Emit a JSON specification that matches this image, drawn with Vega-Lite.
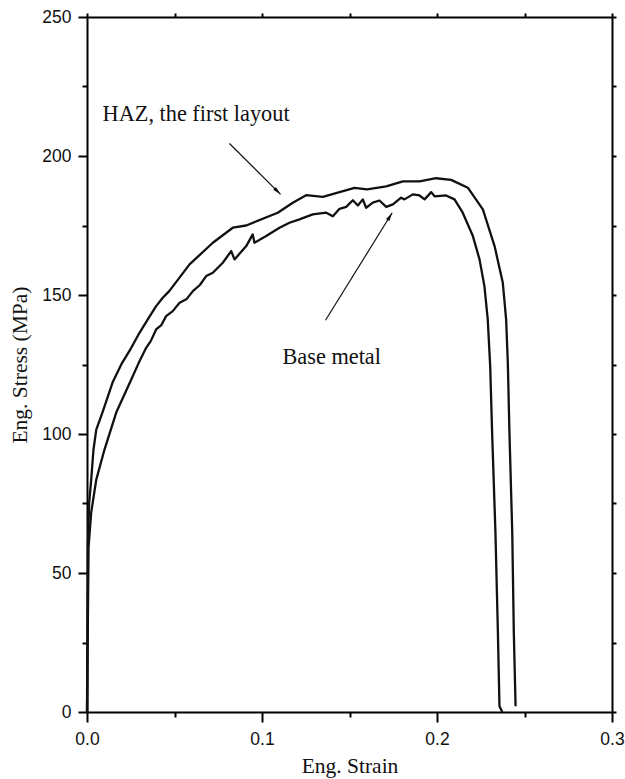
{
  "$schema": "https://vega.github.io/schema/vega-lite/v6.json",
  "width": 525,
  "height": 695,
  "autosize": "none",
  "padding": {"left": 87, "top": 17, "right": 13, "bottom": 67},
  "background": "white",
  "config": {
    "view": {"stroke": null},
    "axis": {"domainColor": "black", "domainWidth": 2, "tickColor": "black", "tickWidth": 2, "grid": false,
      "labelFont": "Liberation Sans", "labelFontSize": 17.5, "labelColor": "#111",
      "titleFont": "Liberation Serif", "titleFontSize": 21.5, "titleFontWeight": "normal", "titleColor": "#111"}
  },
  "datasets": {
    "curves": [
      {"series": "HAZ", "i": 1, "strain": 0, "stress": 0},
      {"series": "HAZ", "i": 2, "strain": 0.0005, "stress": 59.5},
      {"series": "HAZ", "i": 3, "strain": 0.0012, "stress": 75},
      {"series": "HAZ", "i": 4, "strain": 0.0024, "stress": 83.6},
      {"series": "HAZ", "i": 5, "strain": 0.0037, "stress": 94.4},
      {"series": "HAZ", "i": 6, "strain": 0.0053, "stress": 101.6},
      {"series": "HAZ", "i": 7, "strain": 0.0088, "stress": 107.7},
      {"series": "HAZ", "i": 8, "strain": 0.0146, "stress": 118.5},
      {"series": "HAZ", "i": 9, "strain": 0.0200, "stress": 125.5},
      {"series": "HAZ", "i": 10, "strain": 0.0253, "stress": 131.0},
      {"series": "HAZ", "i": 11, "strain": 0.0300, "stress": 136.4},
      {"series": "HAZ", "i": 12, "strain": 0.0350, "stress": 141.5},
      {"series": "HAZ", "i": 13, "strain": 0.0395, "stress": 146},
      {"series": "HAZ", "i": 14, "strain": 0.0433, "stress": 149},
      {"series": "HAZ", "i": 15, "strain": 0.047, "stress": 151.4},
      {"series": "HAZ", "i": 16, "strain": 0.0586, "stress": 161},
      {"series": "HAZ", "i": 17, "strain": 0.0719, "stress": 168.8},
      {"series": "HAZ", "i": 18, "strain": 0.0833, "stress": 174.2},
      {"series": "HAZ", "i": 19, "strain": 0.091, "stress": 175},
      {"series": "HAZ", "i": 20, "strain": 0.109, "stress": 179.6},
      {"series": "HAZ", "i": 21, "strain": 0.1176, "stress": 183.2},
      {"series": "HAZ", "i": 22, "strain": 0.1252, "stress": 185.9},
      {"series": "HAZ", "i": 23, "strain": 0.1348, "stress": 185.3},
      {"series": "HAZ", "i": 24, "strain": 0.1443, "stress": 187},
      {"series": "HAZ", "i": 25, "strain": 0.1529, "stress": 188.5},
      {"series": "HAZ", "i": 26, "strain": 0.1600, "stress": 188},
      {"series": "HAZ", "i": 27, "strain": 0.171, "stress": 189.1},
      {"series": "HAZ", "i": 28, "strain": 0.1805, "stress": 190.9},
      {"series": "HAZ", "i": 29, "strain": 0.19, "stress": 190.9},
      {"series": "HAZ", "i": 30, "strain": 0.1995, "stress": 192},
      {"series": "HAZ", "i": 31, "strain": 0.2081, "stress": 191.4},
      {"series": "HAZ", "i": 32, "strain": 0.2176, "stress": 188.6},
      {"series": "HAZ", "i": 33, "strain": 0.2262, "stress": 180.8},
      {"series": "HAZ", "i": 34, "strain": 0.2329, "stress": 167.6},
      {"series": "HAZ", "i": 35, "strain": 0.2376, "stress": 154.4},
      {"series": "HAZ", "i": 36, "strain": 0.2395, "stress": 141.2},
      {"series": "HAZ", "i": 37, "strain": 0.2405, "stress": 125},
      {"series": "HAZ", "i": 38, "strain": 0.2414, "stress": 100.4},
      {"series": "HAZ", "i": 39, "strain": 0.243, "stress": 64.5},
      {"series": "HAZ", "i": 40, "strain": 0.2439, "stress": 28.5},
      {"series": "HAZ", "i": 41, "strain": 0.2449, "stress": 2.1},
      {"series": "Base", "i": 1, "strain": 0, "stress": 0},
      {"series": "Base", "i": 2, "strain": 0.0009, "stress": 59.5},
      {"series": "Base", "i": 3, "strain": 0.0024, "stress": 71.8},
      {"series": "Base", "i": 4, "strain": 0.0053, "stress": 83.6},
      {"series": "Base", "i": 5, "strain": 0.010, "stress": 94.4},
      {"series": "Base", "i": 6, "strain": 0.0167, "stress": 107.7},
      {"series": "Base", "i": 7, "strain": 0.0253, "stress": 119.6},
      {"series": "Base", "i": 8, "strain": 0.0295, "stress": 125.5},
      {"series": "Base", "i": 9, "strain": 0.0338, "stress": 131},
      {"series": "Base", "i": 10, "strain": 0.0365, "stress": 133.5},
      {"series": "Base", "i": 11, "strain": 0.0395, "stress": 137.6},
      {"series": "Base", "i": 12, "strain": 0.0425, "stress": 139.2},
      {"series": "Base", "i": 13, "strain": 0.0452, "stress": 142.4},
      {"series": "Base", "i": 14, "strain": 0.049, "stress": 144.2},
      {"series": "Base", "i": 15, "strain": 0.0529, "stress": 147.2},
      {"series": "Base", "i": 16, "strain": 0.057, "stress": 148.6},
      {"series": "Base", "i": 17, "strain": 0.0605, "stress": 151.4},
      {"series": "Base", "i": 18, "strain": 0.0645, "stress": 153.6},
      {"series": "Base", "i": 19, "strain": 0.0681, "stress": 156.8},
      {"series": "Base", "i": 20, "strain": 0.0719, "stress": 158},
      {"series": "Base", "i": 21, "strain": 0.0776, "stress": 161.6},
      {"series": "Base", "i": 22, "strain": 0.0824, "stress": 165.8},
      {"series": "Base", "i": 23, "strain": 0.0843, "stress": 162.8},
      {"series": "Base", "i": 24, "strain": 0.091, "stress": 167.6},
      {"series": "Base", "i": 25, "strain": 0.0947, "stress": 171.8},
      {"series": "Base", "i": 26, "strain": 0.0957, "stress": 168.8},
      {"series": "Base", "i": 27, "strain": 0.1024, "stress": 171.2},
      {"series": "Base", "i": 28, "strain": 0.11, "stress": 174.2},
      {"series": "Base", "i": 29, "strain": 0.1157, "stress": 176},
      {"series": "Base", "i": 30, "strain": 0.1214, "stress": 177.2},
      {"series": "Base", "i": 31, "strain": 0.129, "stress": 179},
      {"series": "Base", "i": 32, "strain": 0.1367, "stress": 179.6},
      {"series": "Base", "i": 33, "strain": 0.1405, "stress": 178.3},
      {"series": "Base", "i": 34, "strain": 0.1443, "stress": 181},
      {"series": "Base", "i": 35, "strain": 0.1481, "stress": 181.7},
      {"series": "Base", "i": 36, "strain": 0.1519, "stress": 184.1},
      {"series": "Base", "i": 37, "strain": 0.1548, "stress": 182.2},
      {"series": "Base", "i": 38, "strain": 0.1576, "stress": 184.4},
      {"series": "Base", "i": 39, "strain": 0.1595, "stress": 181.4},
      {"series": "Base", "i": 40, "strain": 0.1633, "stress": 183.2},
      {"series": "Base", "i": 41, "strain": 0.1671, "stress": 184},
      {"series": "Base", "i": 42, "strain": 0.171, "stress": 181.7},
      {"series": "Base", "i": 43, "strain": 0.1748, "stress": 182.6},
      {"series": "Base", "i": 44, "strain": 0.1795, "stress": 185},
      {"series": "Base", "i": 45, "strain": 0.1814, "stress": 184.4},
      {"series": "Base", "i": 46, "strain": 0.1862, "stress": 186.2},
      {"series": "Base", "i": 47, "strain": 0.19, "stress": 185.8},
      {"series": "Base", "i": 48, "strain": 0.1929, "stress": 184.4},
      {"series": "Base", "i": 49, "strain": 0.1967, "stress": 187},
      {"series": "Base", "i": 50, "strain": 0.1986, "stress": 185.5},
      {"series": "Base", "i": 51, "strain": 0.2052, "stress": 185.8},
      {"series": "Base", "i": 52, "strain": 0.21, "stress": 184.4},
      {"series": "Base", "i": 53, "strain": 0.2147, "stress": 179.6},
      {"series": "Base", "i": 54, "strain": 0.2205, "stress": 171.2},
      {"series": "Base", "i": 55, "strain": 0.2243, "stress": 162.8},
      {"series": "Base", "i": 56, "strain": 0.2271, "stress": 153.2},
      {"series": "Base", "i": 57, "strain": 0.229, "stress": 141.2},
      {"series": "Base", "i": 58, "strain": 0.2304, "stress": 124.4},
      {"series": "Base", "i": 59, "strain": 0.2315, "stress": 100.4},
      {"series": "Base", "i": 60, "strain": 0.2334, "stress": 64.5},
      {"series": "Base", "i": 61, "strain": 0.2348, "stress": 28.5},
      {"series": "Base", "i": 62, "strain": 0.2357, "stress": 2.1},
      {"series": "Base", "i": 63, "strain": 0.2373, "stress": 0}
    ],
    "arrows": [
      {"name": "HAZ", "x1": 0.0814, "y1": 204.5, "x2": 0.1106, "y2": 186.2},
      {"name": "Base", "x1": 0.1363, "y1": 140.9, "x2": 0.1744, "y2": 179.6}
    ],
    "labels": [
      {"name": "HAZ", "strain": 0.0089, "stress": 212.5, "text": "HAZ, the first layout"},
      {"name": "Base", "strain": 0.1117, "stress": 125.2, "text": "Base metal"}
    ]
  },
  "layer": [
    {
      "data": {"name": "curves"},
      "mark": {"type": "line", "color": "#111", "strokeWidth": 2.3, "strokeJoin": "round"},
      "encoding": {
        "x": {"field": "strain", "type": "quantitative",
          "scale": {"domain": [0, 0.3], "nice": false},
          "axis": {"title": "Eng. Strain", "orient": "bottom",
            "values": [0, 0.05, 0.1, 0.15, 0.2, 0.25, 0.3],
            "format": ".1f",
            "labelExpr": "abs(datum.value*10 - round(datum.value*10)) < 0.001 ? datum.label : ''",
            "tickSize": {"condition": {"test": "abs(datum.value*10 - round(datum.value*10)) < 0.001", "value": 10}, "value": 5},
            "labelPadding": 8, "titlePadding": 8, "labelFlush": false}},
        "y": {"field": "stress", "type": "quantitative",
          "scale": {"domain": [0, 250], "nice": false},
          "axis": {"title": "Eng. Stress (MPa)", "orient": "left",
            "values": [0, 25, 50, 75, 100, 125, 150, 175, 200, 225, 250],
            "labelExpr": "datum.value % 50 === 0 ? datum.label : ''",
            "tickSize": {"condition": {"test": "datum.value % 50 === 0", "value": 9}, "value": 5},
            "labelPadding": 7, "titlePadding": 10, "labelFlush": false}},
        "detail": {"field": "series"},
        "order": {"field": "i", "type": "quantitative"}
      }
    },
    {
      "data": {"name": "arrows"},
      "mark": {"type": "rule", "color": "#111", "strokeWidth": 1.2},
      "encoding": {
        "x": {"field": "x1", "type": "quantitative",
          "axis": {"orient": "top", "title": null, "labels": false, "values": [0, 0.05, 0.1, 0.15, 0.2, 0.25, 0.3], "tickSize": 4}},
        "y": {"field": "y1", "type": "quantitative",
          "axis": {"orient": "right", "title": null, "labels": false, "values": [0, 25, 50, 75, 100, 125, 150, 175, 200, 225, 250], "tickSize": 4}},
        "x2": {"field": "x2"},
        "y2": {"field": "y2"}
      }
    },
    {
      "data": {"name": "arrows"},
      "transform": [{"filter": "datum.name === 'HAZ'"}],
      "mark": {"type": "point", "shape": "M0,0L0.8,3.4L-0.8,3.4Z", "filled": true, "color": "#111", "opacity": 1, "size": 25, "angle": 135},
      "encoding": {
        "x": {"field": "x2", "type": "quantitative", "axis": null},
        "y": {"field": "y2", "type": "quantitative", "axis": null}
      }
    },
    {
      "data": {"name": "arrows"},
      "transform": [{"filter": "datum.name === 'Base'"}],
      "mark": {"type": "point", "shape": "M0,0L0.8,3.4L-0.8,3.4Z", "filled": true, "color": "#111", "opacity": 1, "size": 25, "angle": 31.8},
      "encoding": {
        "x": {"field": "x2", "type": "quantitative", "axis": null},
        "y": {"field": "y2", "type": "quantitative", "axis": null}
      }
    },
    {
      "data": {"name": "labels"},
      "mark": {"type": "text", "font": "Liberation Serif", "fontSize": 22.3, "align": "left", "baseline": "alphabetic", "color": "#111"},
      "encoding": {
        "x": {"field": "strain", "type": "quantitative", "axis": null},
        "y": {"field": "stress", "type": "quantitative", "axis": null},
        "text": {"field": "text"}
      }
    }
  ],
  "resolve": {"axis": {"x": "independent", "y": "independent"}}
}
